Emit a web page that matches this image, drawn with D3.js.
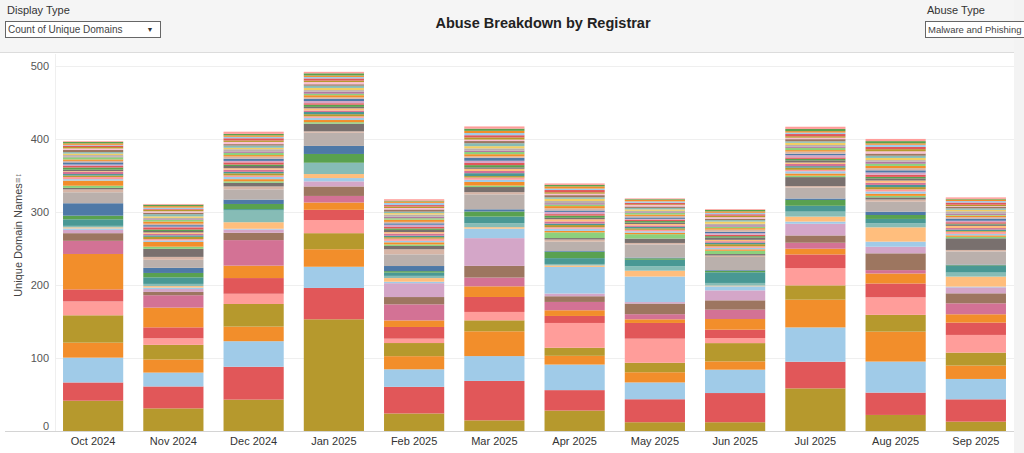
<!DOCTYPE html>
<html>
<head>
<meta charset="utf-8">
<script src="https://cdn.jsdelivr.net/npm/d3@7"></script>
<style>
  body { margin: 0; background: #fff; font-family: "Liberation Sans", Arial, sans-serif; }
  svg { display: block; }
</style>
</head>
<body>
<svg id="chart" width="1024" height="453"></svg>
<script>
const months = ['Oct 2024', 'Nov 2024', 'Dec 2024', 'Jan 2025', 'Feb 2025', 'Mar 2025',
	'Apr 2025', 'May 2025', 'Jun 2025', 'Jul 2025', 'Aug 2025', 'Sep 2025'];

// registrar colours, in stack order (bottom -> top)
const registrarColors = [
	'#b6992d', '#e15759', '#a0cbe8', '#f28e2b', '#b6992d', '#ff9d9a', '#e15759', '#f28e2b',
	'#d37295', '#9d7660', '#d4a6c8', '#a0cbe8', '#ffbe7d', '#86bcb6', '#499894', '#59a14f',
	'#4e79a7', '#bab0ac', '#d7b5a6', '#79706e', '#8cd17d', '#f28e2b',
	// smaller registrars
	'#a0cbe8', '#ff9d9a', '#b6992d', '#499894', '#d37295', '#ffbe7d', '#79706e', '#59a14f',
	'#e15759', '#d4a6c8', '#4e79a7', '#d7b5a6', '#f28e2b', '#8cd17d', '#b07aa1', '#bab0ac',
	'#f1ce63', '#86bcb6', '#9d7660', '#fabfd2', '#b6992d', '#e15759', '#a0cbe8', '#f28e2b',
	'#59a14f', '#ff9d9a'
];

// unique domain counts per registrar, one array per month
const oct24 = [41.5, 25, 34, 20.5, 37.5, 19, 16.5, 48.5, 18, 10.5, 4.5, 2, 1.5, 2, 9, 5, 17, 15, 4, 2, 3, 7,
	2, 3, 2, 2, 3, 1, 2, 3, 2, 2, 3, 2, 2, 3, 1, 2, 2, 2, 3, 2, 2, 2, 1, 2, 2, 1];
const nov24 = [31, 30, 19, 18, 20, 9, 15, 27, 17, 4.5, 4, 2, 2, 3, 9, 6, 7, 11, 4, 11, 3, 6.5,
	2, 2, 3, 2, 2, 2, 2, 2, 3, 1, 2, 2, 3, 2, 1, 2, 2, 3, 2, 2, 2, 1, 2, 2, 2, 1];
const dec24 = [43, 45, 35, 20, 31, 14, 21.5, 17, 35, 10, 4.5, 1, 9, 16, 2, 7, 6, 14, 4, 5, 2, 3,
	3, 2, 3, 2, 3, 2, 3, 2, 3, 2, 3, 3, 2, 3, 2, 3, 2, 3, 2, 3, 2, 3, 2, 2, 2, 3];
const jan25 = [153, 43, 29, 24, 22, 18, 14, 10, 9, 13, 7, 4.5, 5.5, 14.5, 1, 12, 11, 18, 2, 10.5, 2, 3,
	3, 2, 3, 3, 2, 3, 2, 3, 2, 3, 3, 2, 3, 2, 3, 2, 3, 3, 2, 3, 2, 3, 2, 2, 3, 2];
const feb25 = [24, 36.5, 24, 18, 18, 6, 16, 9, 22, 10, 19, 2, 5, 3, 4.5, 2, 7, 16, 7, 4.5, 2, 3,
	2, 3, 2, 2, 3, 2, 3, 2, 2, 3, 2, 2, 3, 2, 2, 3, 2, 2, 3, 2, 2, 2, 3, 2, 1, 2];
const mar25 = [14.6, 54, 34, 34, 15, 11.5, 20.5, 14.6, 12, 16, 38, 13, 2, 5.5, 9, 7, 3, 20.5, 3, 7, 2, 5,
	3, 3, 2, 4, 3, 3, 2, 3, 3, 3, 4, 2, 3, 3, 2, 3, 3, 4, 3, 2, 3, 3, 3, 3, 3, 3];
const apr25 = [28, 28, 35, 12, 11, 34, 9.6, 7.8, 11.4, 7.8, 3.7, 36.5, 2, 2, 8, 8.7, 1, 12.8, 3, 2, 7.8, 2,
	3, 2, 3, 2, 3, 3, 2, 3, 2, 3, 2, 3, 3, 2, 2, 3, 3, 2, 3, 2, 2, 3, 2, 3, 2, 2];
const may25 = [12, 31.5, 23, 14, 13, 33, 21.5, 5, 7, 14.6, 2, 35, 8, 6, 9, 2, 1, 18, 2, 6, 6, 2,
	2, 2, 2, 2, 2, 2, 2, 2, 2, 1, 2, 2, 2, 2, 1, 2, 2, 2, 2, 2, 1, 2, 2, 2, 1, 1];
const jun25 = [12, 40, 32, 11.4, 25, 7, 11.4, 14.6, 12.8, 12.8, 13.7, 5.5, 1, 3.6, 14.6, 2, 1, 18, 2, 2, 4.5, 2,
	2, 2, 3, 2, 2, 2, 3, 2, 2, 2, 2, 3, 2, 2, 2, 2, 3, 2, 2, 2, 2, 2, 2, 2, 2, 1];
const jul25 = [58.4, 36.5, 47, 38, 19.6, 23.7, 18.7, 7.8, 8.2, 10, 16, 3, 6.8, 6.8, 8, 8, 2, 15, 2, 12.3, 2, 3,
	3, 2, 3, 2, 3, 2, 3, 2, 2, 3, 2, 3, 2, 3, 2, 2, 3, 2, 3, 2, 2, 3, 2, 2, 3, 3];
const aug25 = [22, 30.6, 42.5, 41, 23, 24, 19, 13.7, 4.6, 23, 9, 7, 19.6, 5.5, 6, 5.4, 4.5, 13.7, 3, 3, 2, 3,
	3, 3, 3, 3, 3, 3, 3, 2, 3, 3, 3, 3, 3, 3, 3, 2, 3, 3, 3, 3, 3, 3, 3, 2, 3, 3];
const sep25 = [12.8, 30.6, 27.9, 18.3, 17.8, 24.2, 16.9, 11.4, 15, 13.7, 8.2, 1, 13.7, 5.5, 9, 1, 1, 18, 2, 16, 2, 2,
	2, 3, 1, 2, 2, 3, 2, 1, 2, 2, 3, 2, 2, 1, 2, 3, 2, 2, 2, 1, 2, 3, 2, 2, 1, 2];

const monthValues = [oct24, nov24, dec24, jan25, feb25, mar25, apr25, may25, jun25, jul25, aug25, sep25];
const yTicks = [0, 100, 200, 300, 400, 500];

const width = 1024, height = 453;
const svg = d3.select('#chart');

const keys = registrarColors.map((d, i) => `r${i}`);
const table = months.map((m, i) => {
	const row = { month: m };
	keys.forEach((k, j) => row[k] = monthValues[i][j] || 0);
	return row;
});
const series = d3.stack().keys(keys)(table);

const x = d3.scaleBand(months, [53, 1016]).paddingInner(0.25).paddingOuter(0.125);
const y = d3.scaleLinear([0, 500], [431, 66]);

// header strip and right margin
svg.append('rect')
	.attr('width', width).attr('height', 52)
	.style('fill', '#f5f5f5');
svg.append('line')
	.attr('x1', 0).attr('x2', 1014).attr('y1', 52.5).attr('y2', 52.5)
	.style('stroke', '#dcdcdc');
svg.append('rect')
	.attr('x', 1014).attr('y', 0).attr('width', 10).attr('height', height)
	.style('fill', '#f3f3f3');

// gridlines
svg.append('g').selectAll('line')
	.data(yTicks.filter(d => d > 0))
	.join('line')
	.attr('x1', 55).attr('x2', 1014)
	.attr('y1', d => Math.round(y(d)) + 0.5).attr('y2', d => Math.round(y(d)) + 0.5)
	.style('stroke', '#efefef');
svg.append('line')
	.attr('x1', 55.5).attr('x2', 55.5).attr('y1', 54).attr('y2', 431)
	.style('stroke', '#efefef');

// bars
svg.append('g').selectAll('g')
	.data(series)
	.join('g')
	.style('fill', (d, i) => registrarColors[i])
	.selectAll('rect')
	.data(d => d.map(v => Object.assign(v, { month: v.data.month })))
	.join('rect')
	.attr('x', d => x(d.month))
	.attr('width', x.bandwidth())
	.attr('y', d => y(d[1]))
	.attr('height', d => Math.max(0, y(d[0]) - y(d[1])));

// baseline
svg.append('line')
	.attr('x1', 5).attr('x2', 1014).attr('y1', 431.5).attr('y2', 431.5)
	.style('stroke', '#d4d4d4');

// y axis labels
svg.append('g').selectAll('text')
	.data(yTicks)
	.join('text')
	.attr('x', 49)
	.attr('y', d => y(d) + (d === 0 ? -5 : 0))
	.attr('dy', '0.35em')
	.attr('text-anchor', 'end')
	.style('font-size', '11px')
	.style('fill', '#555')
	.text(d => d);

svg.append('text')
	.attr('transform', 'translate(18,240) rotate(-90)')
	.attr('dy', '0.35em')
	.attr('text-anchor', 'middle')
	.style('font-size', '11px')
	.style('fill', '#444')
	.text('Unique Domain Names');
svg.append('text')
	.attr('transform', 'translate(18,178) rotate(-90)')
	.attr('dy', '0.35em')
	.attr('text-anchor', 'middle')
	.style('font-size', '9px')
	.style('fill', '#777')
	.text('≡↕');

// x axis labels
svg.append('g').selectAll('text')
	.data(months)
	.join('text')
	.attr('x', d => x(d) + x.bandwidth() / 2)
	.attr('y', 445)
	.attr('text-anchor', 'middle')
	.style('font-size', '11px')
	.style('fill', '#333')
	.text(d => d);

// title
svg.append('text')
	.attr('x', 543).attr('y', 28)
	.attr('text-anchor', 'middle')
	.style('font-size', '14.5px')
	.style('font-weight', 'bold')
	.style('fill', '#222')
	.text('Abuse Breakdown by Registrar');

// filter controls
const controls = [
	{ label: 'Display Type', value: 'Count of Unique Domains', x: 5, w: 155, size: '10px', arrow: true },
	{ label: 'Abuse Type', value: 'Malware and Phishing', x: 925, w: 99, size: '9.5px', arrow: false },
];
const ctl = svg.append('g').selectAll('g')
	.data(controls)
	.join('g')
	.attr('transform', d => `translate(${d.x},0)`);
ctl.append('text')
	.attr('x', 2).attr('y', 14)
	.style('font-size', '11px')
	.style('fill', '#333')
	.text(d => d.label);
ctl.append('rect')
	.attr('x', 0.5).attr('y', 21.5).attr('width', d => d.w).attr('height', 16)
	.style('fill', '#fff')
	.style('stroke', '#666');
ctl.append('text')
	.attr('x', 3).attr('y', 33)
	.style('font-size', d => d.size)
	.style('fill', '#444')
	.text(d => d.value);
ctl.filter(d => d.arrow).append('text')
	.attr('x', d => d.w - 10).attr('y', 32)
	.attr('text-anchor', 'middle')
	.style('font-size', '7px')
	.style('fill', '#333')
	.text('▼');
</script>
</body>
</html>
